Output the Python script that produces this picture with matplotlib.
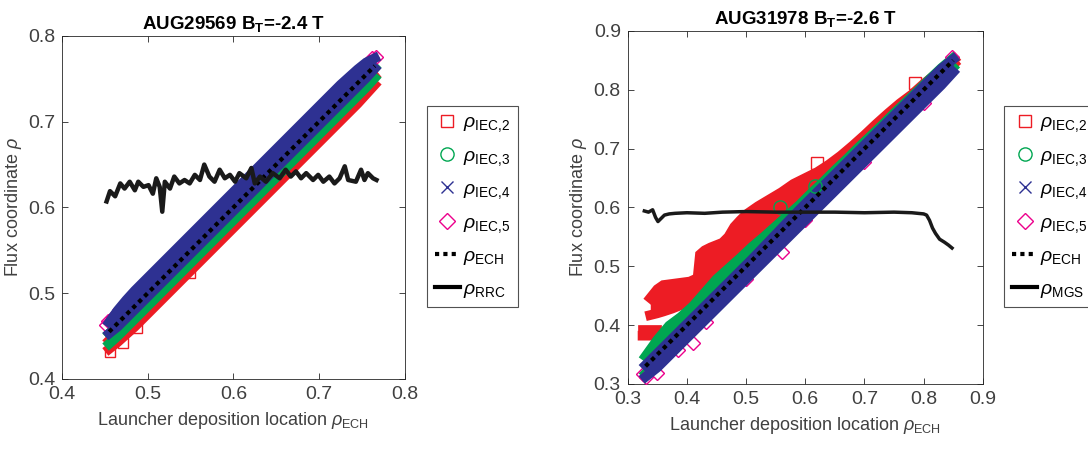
import matplotlib
matplotlib.use('Agg')
import matplotlib.pyplot as plt
from matplotlib.lines import Line2D

plt.rcParams['font.family'] = ['Liberation Sans', 'DejaVu Sans']
plt.rcParams['mathtext.fontset'] = 'custom'
plt.rcParams['mathtext.rm'] = 'Liberation Sans'
plt.rcParams['mathtext.it'] = 'Liberation Sans:italic'
plt.rcParams['mathtext.bf'] = 'Liberation Sans:bold'

# ---------------- left panel: AUG29569 ----------------
x_L = [0.455, 0.465, 0.475, 0.485, 0.495, 0.505, 0.515, 0.525, 0.535, 0.545, 0.555,
       0.565, 0.575, 0.585, 0.595, 0.605, 0.615, 0.625, 0.635, 0.645, 0.655, 0.665,
       0.675, 0.685, 0.695, 0.705, 0.715, 0.725, 0.735, 0.745, 0.755, 0.765]
red_lo_L = [0.435, 0.443, 0.452, 0.461, 0.471, 0.481, 0.491, 0.501, 0.511, 0.521, 0.531,
            0.541, 0.551, 0.561, 0.571, 0.581, 0.591, 0.601, 0.611, 0.621, 0.631, 0.641,
            0.651, 0.661, 0.671, 0.681, 0.691, 0.701, 0.711, 0.721, 0.732, 0.743]
red_hi_L = [0.445, 0.455, 0.465, 0.475, 0.485, 0.495, 0.505, 0.515, 0.525, 0.535, 0.545,
            0.555, 0.565, 0.575, 0.585, 0.595, 0.605, 0.615, 0.625, 0.635, 0.645, 0.655,
            0.665, 0.675, 0.685, 0.695, 0.705, 0.715, 0.725, 0.735, 0.745, 0.753]
green_lo_L = [0.441, 0.450, 0.460, 0.470, 0.480, 0.490, 0.500, 0.510, 0.520, 0.530, 0.540,
              0.550, 0.560, 0.570, 0.580, 0.590, 0.600, 0.610, 0.620, 0.630, 0.640, 0.650,
              0.660, 0.670, 0.680, 0.690, 0.700, 0.710, 0.720, 0.730, 0.740, 0.751]
green_hi_L = [0.453, 0.463, 0.473, 0.483, 0.493, 0.503, 0.513, 0.523, 0.533, 0.543, 0.553,
              0.563, 0.573, 0.583, 0.593, 0.603, 0.613, 0.623, 0.633, 0.643, 0.653, 0.663,
              0.673, 0.683, 0.693, 0.703, 0.713, 0.723, 0.733, 0.743, 0.753, 0.763]
blue_lo_L = [0.453, 0.461, 0.471, 0.481, 0.491, 0.501, 0.511, 0.521, 0.531, 0.541, 0.551,
             0.561, 0.571, 0.581, 0.591, 0.601, 0.611, 0.621, 0.631, 0.641, 0.651, 0.661,
             0.671, 0.681, 0.691, 0.701, 0.711, 0.721, 0.731, 0.741, 0.751, 0.762]
blue_hi_L = [0.466, 0.480, 0.492, 0.503, 0.513, 0.523, 0.533, 0.543, 0.553, 0.563, 0.573,
             0.583, 0.593, 0.603, 0.613, 0.623, 0.633, 0.643, 0.653, 0.663, 0.673, 0.683,
             0.693, 0.703, 0.713, 0.723, 0.733, 0.743, 0.752, 0.761, 0.769, 0.774]
mag_x_L = [0.451, 0.454, 0.459, 0.466, 0.500, 0.550, 0.600, 0.650, 0.700, 0.750, 0.758, 0.762, 0.766]
mag_y_L = [0.463, 0.468, 0.472, 0.480, 0.510, 0.560, 0.610, 0.660, 0.710, 0.760, 0.770, 0.774, 0.776]
red_out_x_L = [0.456, 0.471, 0.487, 0.549]
red_out_y_L = [0.431, 0.442, 0.460, 0.523]
rrc_x = [0.452, 0.456, 0.462, 0.468, 0.473, 0.479, 0.485, 0.489, 0.495, 0.501, 0.506,
         0.510, 0.514, 0.517, 0.520, 0.526, 0.531, 0.537, 0.543, 0.549, 0.555, 0.561,
         0.566, 0.572, 0.578, 0.584, 0.590, 0.596, 0.602, 0.607, 0.615, 0.621, 0.625,
         0.631, 0.638, 0.646, 0.654, 0.661, 0.667, 0.673, 0.679, 0.685, 0.693, 0.699,
         0.705, 0.712, 0.718, 0.724, 0.730, 0.734, 0.743, 0.749, 0.753, 0.757, 0.763, 0.767]
rrc_y = [0.607, 0.619, 0.613, 0.628, 0.622, 0.630, 0.620, 0.630, 0.624, 0.626, 0.616,
         0.634, 0.624, 0.595, 0.630, 0.622, 0.636, 0.628, 0.632, 0.628, 0.638, 0.632,
         0.650, 0.636, 0.630, 0.644, 0.634, 0.638, 0.630, 0.640, 0.634, 0.646, 0.628,
         0.636, 0.630, 0.640, 0.634, 0.644, 0.636, 0.642, 0.634, 0.640, 0.632, 0.638,
         0.630, 0.636, 0.628, 0.634, 0.648, 0.632, 0.630, 0.644, 0.632, 0.640, 0.634, 0.632]

# ---------------- right panel: AUG31978 ----------------
x_R = [0.33, 0.35, 0.37, 0.39, 0.41, 0.43, 0.45, 0.47, 0.49, 0.51, 0.53, 0.55, 0.57, 0.59,
       0.61, 0.63, 0.65, 0.67, 0.69, 0.71, 0.73, 0.75, 0.77, 0.79, 0.81, 0.83, 0.85]
blue_lo_R = [0.312, 0.328, 0.348, 0.368, 0.388, 0.408, 0.428, 0.448, 0.468, 0.488, 0.508,
             0.528, 0.548, 0.568, 0.588, 0.608, 0.628, 0.648, 0.668, 0.688, 0.708, 0.728,
             0.748, 0.768, 0.788, 0.808, 0.830]
blue_hi_R = [0.332, 0.352, 0.372, 0.392, 0.412, 0.432, 0.452, 0.472, 0.492, 0.512, 0.533,
             0.554, 0.575, 0.596, 0.616, 0.636, 0.656, 0.676, 0.696, 0.716, 0.736, 0.756,
             0.776, 0.796, 0.816, 0.836, 0.852]
green_lo_R = [0.318, 0.338, 0.358, 0.378, 0.398, 0.418, 0.438, 0.458, 0.478, 0.498, 0.518,
              0.538, 0.558, 0.578, 0.598, 0.618, 0.638, 0.658, 0.678, 0.698, 0.718, 0.738,
              0.758, 0.778, 0.798, 0.818, 0.838]
green_hi_R = [0.347, 0.375, 0.399, 0.414, 0.432, 0.455, 0.478, 0.496, 0.514, 0.533, 0.550,
              0.568, 0.586, 0.604, 0.624, 0.643, 0.663, 0.682, 0.702, 0.721, 0.740, 0.760,
              0.779, 0.798, 0.818, 0.837, 0.854]
redA_x_R = [0.325, 0.338, 0.350]
redA_lo_R = [0.382, 0.382, 0.383]
redA_hi_R = [0.392, 0.392, 0.392]
red_x_R = [0.338, 0.350, 0.360, 0.375, 0.390, 0.405, 0.418, 0.422, 0.430, 0.440, 0.450,
           0.460, 0.470, 0.480, 0.490, 0.500, 0.520, 0.540, 0.560, 0.580, 0.600, 0.620,
           0.640, 0.660, 0.680, 0.700, 0.720, 0.740, 0.760, 0.780, 0.800, 0.820, 0.840,
           0.852]
red_lo_R = [0.417, 0.420, 0.423, 0.428, 0.434, 0.449, 0.461, 0.464, 0.469, 0.477, 0.483,
            0.489, 0.493, 0.505, 0.514, 0.517, 0.517, 0.535, 0.555, 0.575, 0.595, 0.615,
            0.635, 0.655, 0.675, 0.695, 0.715, 0.735, 0.755, 0.775, 0.795, 0.815, 0.835,
            0.845]
red_hi_R = [0.446, 0.461, 0.468, 0.470, 0.472, 0.474, 0.480, 0.520, 0.527, 0.532, 0.536,
            0.540, 0.550, 0.567, 0.578, 0.588, 0.602, 0.614, 0.626, 0.640, 0.650, 0.660,
            0.673, 0.688, 0.705, 0.723, 0.742, 0.760, 0.777, 0.792, 0.810, 0.826, 0.842,
            0.852]
red_out_x_R = [0.557, 0.620, 0.785]
red_out_y_R = [0.598, 0.675, 0.812]
green_out_x_R = [0.557, 0.616]
green_out_y_R = [0.601, 0.637]
mag_x_R = [0.325, 0.330, 0.350, 0.385, 0.410, 0.432, 0.500, 0.560, 0.600, 0.700, 0.800, 0.848]
mag_y_R = [0.316, 0.311, 0.318, 0.358, 0.369, 0.405, 0.478, 0.525, 0.578, 0.678, 0.778, 0.856]
mgs_x = [0.328, 0.335, 0.342, 0.347, 0.351, 0.356, 0.362, 0.370, 0.380, 0.400, 0.430, 0.460,
         0.500, 0.550, 0.600, 0.650, 0.700, 0.750, 0.780, 0.800, 0.805, 0.810, 0.815, 0.820,
         0.827, 0.835, 0.842, 0.848]
mgs_y = [0.594, 0.592, 0.596, 0.583, 0.576, 0.581, 0.587, 0.589, 0.590, 0.591, 0.590, 0.592,
         0.593, 0.592, 0.592, 0.592, 0.591, 0.592, 0.591, 0.589, 0.587, 0.578, 0.565, 0.556,
         0.546, 0.541, 0.536, 0.531]

c_red = '#ed1c24'
c_green = '#00a651'
c_blue = '#2e3192'
c_mag = '#ec008c'
ms = 7
txt = '#404040'


def band(ax, x, lo, hi, color, z):
    # dense cloud of markers -> solid band with marker-thick edges
    ax.fill_between(x, lo, hi, color=color, lw=0, zorder=z)
    for y in (lo, hi):
        ax.plot(x, y, color=color, lw=ms, solid_capstyle='projecting',
                solid_joinstyle='miter', zorder=z)


def style(ax, xlim, ylim, ticks_x, ticks_y, title):
    ax.set_xlim(xlim)
    ax.set_ylim(ylim)
    ax.set_xticks(ticks_x)
    ax.set_yticks(ticks_y)
    ax.tick_params(direction='in', top=True, right=True, length=4, width=0.6, pad=5,
                   labelsize=14, colors='#262626', labelcolor=txt)
    for s in ax.spines.values():
        s.set_color('#262626')
        s.set_linewidth(0.6)
    ax.set_title(title, fontsize=13.5, fontweight='bold', pad=5)
    ax.set_xlabel(r'Launcher deposition location $\rho_{\mathrm{ECH}}$', fontsize=13, color=txt, labelpad=5)
    ax.set_ylabel(r'Flux coordinate $\rho$', fontsize=13, color=txt, labelpad=3)


def legend(fig, x0, last):
    h = [Line2D([], [], ls='none', marker='s', mfc='none', mec=c_red, ms=8.5),
         Line2D([], [], ls='none', marker='o', mfc='none', mec=c_green, ms=9.5),
         Line2D([], [], ls='none', marker='x', color=c_blue, ms=8.5),
         Line2D([], [], ls='none', marker='D', mfc='none', mec=c_mag, ms=8.5),
         Line2D([], [], color='k', ls=(0, (1, 1)), lw=3),
         Line2D([], [], color='k', lw=3)]
    labels = [r'$\rho_{\mathrm{IEC{,}2}}$', r'$\rho_{\mathrm{IEC{,}3}}$', r'$\rho_{\mathrm{IEC{,}4}}$',
              r'$\rho_{\mathrm{IEC{,}5}}$', r'$\rho_{\mathrm{ECH}}$', r'$\rho_{\mathrm{' + last + '}}$']
    leg = fig.legend(h, labels, loc='upper left', bbox_to_anchor=(x0, 0.764), fontsize=14,
                     frameon=True, fancybox=False, edgecolor='#262626', handlelength=1.3,
                     handletextpad=0.15, labelspacing=0.66, borderpad=0.4, borderaxespad=0)
    leg.get_frame().set_linewidth(0.8)


fig = plt.figure(figsize=(10.88, 4.49), dpi=100)
axL = fig.add_axes([0.057, 0.156, 0.315, 0.764])
axR = fig.add_axes([0.577, 0.145, 0.3263, 0.786])

# left
band(axL, x_L, red_lo_L, red_hi_L, c_red, 2)
axL.plot(red_out_x_L, red_out_y_L, ls='none', marker='s', mfc='none', mec=c_red, ms=ms, zorder=2)
band(axL, x_L, green_lo_L, green_hi_L, c_green, 3)
axL.plot(mag_x_L, mag_y_L, ls='none', marker='D', mfc='none', mec=c_mag, ms=ms, mew=1.0, zorder=3.5)
band(axL, x_L, blue_lo_L, blue_hi_L, c_blue, 4)
axL.plot(x_L, x_L, color='k', ls=(0, (1, 1)), lw=3, zorder=5)
axL.plot(rrc_x, rrc_y, color='#1a1a1a', lw=3.2, zorder=5)
style(axL, (0.4, 0.8), (0.4, 0.8), [0.4, 0.5, 0.6, 0.7, 0.8], [0.4, 0.5, 0.6, 0.7, 0.8],
      r'AUG29569 $\mathbf{B_T}$=-2.4 T')

# right
band(axR, redA_x_R, redA_lo_R, redA_hi_R, c_red, 2)
band(axR, red_x_R, red_lo_R, red_hi_R, c_red, 2)
axR.plot(red_out_x_R, red_out_y_R, ls='none', marker='s', mfc='none', mec=c_red, ms=8.5, zorder=2)
band(axR, x_R, green_lo_R, green_hi_R, c_green, 3)
axR.plot(mag_x_R, mag_y_R, ls='none', marker='D', mfc='none', mec=c_mag, ms=ms, mew=1.0, zorder=3.5)
band(axR, x_R, blue_lo_R, blue_hi_R, c_blue, 4)
axR.plot(green_out_x_R, green_out_y_R, ls='none', marker='o', mfc='none', mec=c_green, ms=9.5, zorder=4.5)
axR.plot(x_R, x_R, color='k', ls=(0, (1, 1)), lw=3, zorder=5)
axR.plot(mgs_x, mgs_y, color='#1a1a1a', lw=2.5, zorder=5)
style(axR, (0.3, 0.9), (0.3, 0.9), [0.3, 0.4, 0.5, 0.6, 0.7, 0.8, 0.9],
      [0.3, 0.4, 0.5, 0.6, 0.7, 0.8, 0.9], r'AUG31978 $\mathbf{B_T}$=-2.6 T')

legend(fig, 0.3925, 'RRC')
legend(fig, 0.923, 'MGS')

fig.savefig('out.png', dpi=100)
